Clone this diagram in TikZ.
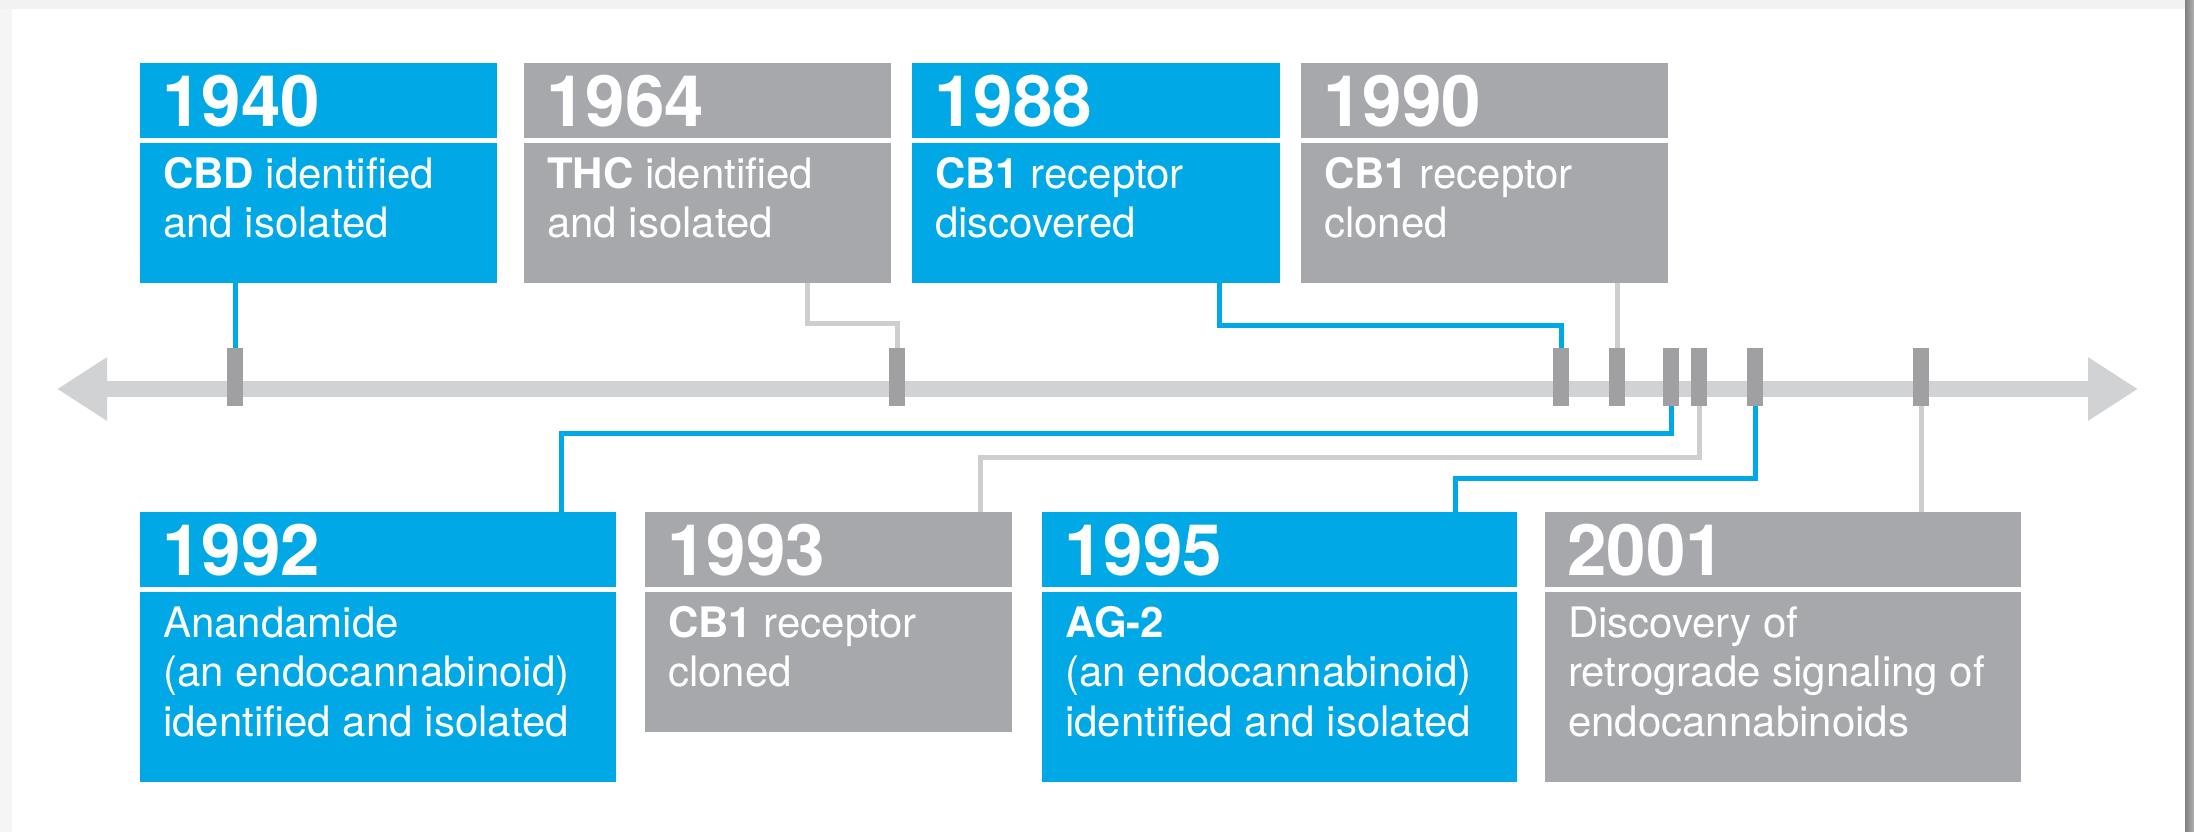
\documentclass[tikz,border=0pt]{standalone}
\usepackage{fontspec}
\setmainfont{TeX Gyre Heros}
\usetikzlibrary{arrows.meta}
\definecolor{cbblue}{RGB}{0,169,230}
\definecolor{cbgrey}{RGB}{167,168,171}
\definecolor{axisgrey}{RGB}{209,210,211}
\definecolor{tickgrey}{RGB}{160,160,163}
\definecolor{linegrey}{RGB}{205,206,207}
\begin{document}
\begin{tikzpicture}[x=1pt,y=-1pt,
  boxbase/.style={draw=none, inner sep=0pt, outer sep=0pt, anchor=north west},
  bluebox/.style={boxbase, fill=cbblue},
  greybox/.style={boxbase, fill=cbgrey},
  yeartext/.style={anchor=base west, inner sep=0pt, text=white, font=\fontsize{71}{73}\selectfont\bfseries},
  bodytext/.style={anchor=base west, inner sep=0pt, text=white, align=left, font=\fontsize{42}{49.5}\selectfont},
  tickmark/.style={draw=none, fill=tickgrey, inner sep=0pt, minimum width=16pt, minimum height=58pt},
  bline/.style={draw=cbblue, line width=5pt, line join=miter},
  gline/.style={draw=linegrey, line width=5pt, line join=miter},
  divider/.style={draw=white, line width=5pt}
]
\useasboundingbox (0,0) rectangle (2194,832);
% background frame
\fill[white] (0,0) rectangle (2194,832);
\fill[black!5] (0,0) rectangle (2194,9);
\fill[black!4] (0,9) rectangle (12,832);
\shade[left color=black!50, right color=black!30] (2185,0) rectangle (2194,832);

% axis
\coordinate (axL) at (57,389);
\coordinate (axR) at (2138,389);
\draw[draw=axisgrey, line width=16pt, {Triangle[length=50pt,width=60pt]}-{Triangle[length=50pt,width=60pt]}] (axL) -- (axR);

% ticks
\node[tickmark] (t1940) at (235,377) {};
\node[tickmark] (t1964) at (897,377) {};
\node[tickmark] (t1988) at (1561,377) {};
\node[tickmark] (t1990) at (1617,377) {};
\node[tickmark] (t1992) at (1671,377) {};
\node[tickmark] (t1993) at (1699,377) {};
\node[tickmark] (t1995) at (1755,377) {};
\node[tickmark] (t2001) at (1921,377) {};

% boxes top
\node[bluebox, minimum width=357pt, minimum height=220pt] (b1940) at (140,63) {};
\node[greybox, minimum width=367pt, minimum height=220pt] (b1964) at (524,63) {};
\node[bluebox, minimum width=368pt, minimum height=220pt] (b1988) at (912,63) {};
\node[greybox, minimum width=367pt, minimum height=220pt] (b1990) at (1301,63) {};
% boxes bottom
\node[bluebox, minimum width=476pt, minimum height=270pt] (b1992) at (140,512) {};
\node[greybox, minimum width=367pt, minimum height=220pt] (b1993) at (645,512) {};
\node[bluebox, minimum width=475pt, minimum height=270pt] (b1995) at (1042,512) {};
\node[greybox, minimum width=476pt, minimum height=270pt] (b2001) at (1545,512) {};

% dividers
\foreach \b in {b1940,b1964,b1988,b1990,b1992,b1993,b1995,b2001}{
  \draw[divider] ([yshift=-77.5pt]\b.north west) -- ([yshift=-77.5pt]\b.north east);
}

% connectors
\draw[bline] ([xshift=95pt]b1940.south west) -- (t1940.north);
\draw[gline] ([xshift=283pt]b1964.south west) -- ++(0,40) -| (t1964.north);
\draw[bline] ([xshift=307pt]b1988.south west) -- ++(0,42) -| (t1988.north);
\draw[gline] (b1990.south -| t1990.north) -- (t1990.north);
\draw[bline] ([xshift=421pt]b1992.north west) -- ++(0,-79) -| (t1992.south);
\draw[gline] ([xshift=335pt]b1993.north west) -- ++(0,-55) -| (t1993.south);
\draw[bline] ([xshift=413pt]b1995.north west) -- ++(0,-34) -| (t1995.south);
\draw[gline] (b2001.north -| t2001.south) -- (t2001.south);

% texts (body nodes are anchored at the baseline of their last line)
\node[yeartext] (y1940) at ([xshift=22pt,yshift=-64pt]b1940.north west) {1940};
\node[bodytext] (d1940) at ([xshift=23pt,yshift=-174.5pt]b1940.north west) {\textbf{CBD} identified\\and isolated};
\node[yeartext] (y1964) at ([xshift=22pt,yshift=-64pt]b1964.north west) {1964};
\node[bodytext] (d1964) at ([xshift=23pt,yshift=-174.5pt]b1964.north west) {\textbf{THC} identified\\and isolated};
\node[yeartext] (y1988) at ([xshift=22pt,yshift=-64pt]b1988.north west) {1988};
\node[bodytext] (d1988) at ([xshift=23pt,yshift=-174.5pt]b1988.north west) {\textbf{CB1} receptor\\discovered};
\node[yeartext] (y1990) at ([xshift=22pt,yshift=-64pt]b1990.north west) {1990};
\node[bodytext] (d1990) at ([xshift=23pt,yshift=-174.5pt]b1990.north west) {\textbf{CB1} receptor\\cloned};
\node[yeartext] (y1992) at ([xshift=22pt,yshift=-63pt]b1992.north west) {1992};
\node[bodytext] (d1992) at ([xshift=23pt,yshift=-224pt]b1992.north west) {Anandamide\\(an endocannabinoid)\\identified and isolated};
\node[yeartext] (y1993) at ([xshift=22pt,yshift=-63pt]b1993.north west) {1993};
\node[bodytext] (d1993) at ([xshift=23pt,yshift=-174.5pt]b1993.north west) {\textbf{CB1} receptor\\cloned};
\node[yeartext] (y1995) at ([xshift=22pt,yshift=-63pt]b1995.north west) {1995};
\node[bodytext] (d1995) at ([xshift=23pt,yshift=-224pt]b1995.north west) {\textbf{AG-2}\\(an endocannabinoid)\\identified and isolated};
\node[yeartext] (y2001) at ([xshift=22pt,yshift=-63pt]b2001.north west) {2001};
\node[bodytext] (d2001) at ([xshift=23pt,yshift=-224pt]b2001.north west) {Discovery of\\retrograde signaling of\\endocannabinoids};
\end{tikzpicture}
\end{document}
